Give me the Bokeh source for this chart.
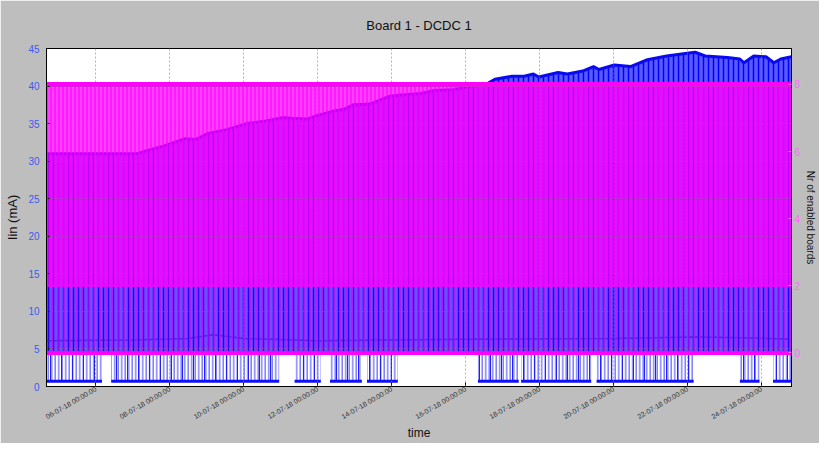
import math
import pandas as pd
from bokeh.plotting import figure
from bokeh.models import (Range1d, LinearAxis, FixedTicker, SingleIntervalTicker,
                          DatetimeTickFormatter, ColumnDataSource)
from bokeh.embed import file_html
from bokeh.resources import INLINE

# ---------------- data ----------------
title_text = "Board 1 - DCDC 1"
x_start = "2018-07-04 16:00"
x_end = "2018-07-24 19:30"
tick_dates = ["2018-07-06", "2018-07-08", "2018-07-10", "2018-07-12", "2018-07-14",
              "2018-07-16", "2018-07-18", "2018-07-20", "2018-07-22", "2018-07-24"]

# upper envelope of Iin (mA)
env_time = ["2018-07-04 16:00", "2018-07-07 03:00", "2018-07-07 09:00", "2018-07-07 20:00",
            "2018-07-08 10:00", "2018-07-08 17:00", "2018-07-09 01:00", "2018-07-09 13:00",
            "2018-07-10 02:00", "2018-07-10 13:00", "2018-07-11 01:00", "2018-07-11 07:00",
            "2018-07-11 17:00", "2018-07-12 00:00", "2018-07-12 09:00", "2018-07-12 17:00",
            "2018-07-12 23:00", "2018-07-13 10:00", "2018-07-13 22:00", "2018-07-14 06:00",
            "2018-07-14 19:00", "2018-07-15 04:00", "2018-07-15 16:00", "2018-07-16 05:00",
            "2018-07-16 13:00", "2018-07-16 19:00", "2018-07-17 06:00", "2018-07-17 14:00",
            "2018-07-17 20:00", "2018-07-17 23:30", "2018-07-18 12:00", "2018-07-18 18:00",
            "2018-07-19 04:00", "2018-07-19 11:00", "2018-07-19 14:30", "2018-07-20 00:30",
            "2018-07-20 11:00", "2018-07-20 22:00", "2018-07-21 10:30", "2018-07-22 01:00",
            "2018-07-22 05:00", "2018-07-22 11:30", "2018-07-23 02:00", "2018-07-23 10:00",
            "2018-07-23 12:40", "2018-07-23 19:00", "2018-07-24 03:00", "2018-07-24 08:00",
            "2018-07-24 12:30", "2018-07-24 19:30"]
env_iin = [31.0, 31.0, 31.4, 32.0,
           33.0, 32.9, 33.7, 34.2,
           35.0, 35.3, 35.8, 35.7,
           35.6, 36.1, 36.6, 36.9,
           37.5, 37.6, 38.6, 38.8,
           39.0, 39.4, 39.5, 40.0,
           40.2, 40.9, 41.3, 41.3,
           41.6, 41.2, 41.8, 41.6,
           42.0, 42.6, 42.2, 42.8,
           42.6, 43.5, 44.0, 44.4,
           44.5, 44.0, 43.8, 43.6,
           43.1, 44.0, 43.9, 43.1,
           43.6, 43.9]

# idle level of Iin (mA)
mid_time = ["2018-07-04 16:00", "2018-07-07 00:00", "2018-07-08 12:00", "2018-07-09 04:00",
            "2018-07-10 00:00", "2018-07-12 00:00", "2018-07-16 00:00", "2018-07-20 00:00",
            "2018-07-22 06:00", "2018-07-23 12:00", "2018-07-24 19:30"]
mid_iin = [6.1, 6.2, 6.4, 6.9, 6.4, 6.1, 6.3, 6.4, 6.6, 6.5, 6.3]

base_iin = 4.6      # lower edge of the dense Iin band
low_iin = 0.7       # Iin when the board is off
off_start = ["2018-07-04 16:00", "2018-07-06 10:00", "2018-07-11 09:00", "2018-07-12 08:00",
             "2018-07-13 08:00", "2018-07-16 08:00", "2018-07-17 12:00", "2018-07-19 13:00",
             "2018-07-23 10:00", "2018-07-24 07:30"]
off_end = ["2018-07-06 04:00", "2018-07-10 23:00", "2018-07-12 02:00", "2018-07-13 04:40",
           "2018-07-14 04:00", "2018-07-17 10:30", "2018-07-19 09:30", "2018-07-22 04:00",
           "2018-07-23 22:45", "2018-07-24 19:30"]

boards_span = [x_start, x_end]
boards_low = 0
boards_mid = 2
boards_high = 8
boards_ticks = [0, 2, 4, 6, 8]

# ---------------- figure ----------------
FONT = "Liberation Sans"
to_dt = pd.to_datetime

p = figure(width=819, height=443, x_axis_type="datetime", output_backend="svg",
           toolbar_location=None,
           x_range=Range1d(to_dt(x_start), to_dt(x_end)), y_range=Range1d(0, 45),
           border_fill_color="#BEBEBE", background_fill_color="white",
           outline_line_color="black", outline_line_width=1,
           min_border_left=46, min_border_right=5, min_border_top=48, min_border_bottom=5,
           title=title_text)
p.extra_y_ranges = {"boards": Range1d(-1.0, 9.07)}

p.title.align = "center"
p.title.text_font = FONT
p.title.text_font_size = "13px"
p.title.text_font_style = "normal"
p.title.text_color = "#111111"
p.title.standoff = 31

# off periods (Iin down to ~0.7 mA)
off_src = ColumnDataSource(dict(left=to_dt(off_start), right=to_dt(off_end),
                                bottom=[low_iin] * len(off_start), top=[base_iin] * len(off_start)))
p.quad(left="left", right="right", bottom="bottom", top="top", source=off_src,
       fill_alpha=0, line_alpha=0, hatch_pattern="vertical_line", hatch_color="#8080FF",
       hatch_weight=1.5, hatch_scale=3.5)
p.quad(left="left", right="right", bottom="bottom", top="top", source=off_src,
       fill_alpha=0, line_alpha=0, hatch_pattern="vertical_line", hatch_color="#2020FF",
       hatch_weight=1, hatch_scale=11)
p.segment(x0="left", x1="right", y0="bottom", y1="bottom", source=off_src,
          line_color="#1010FF", line_width=3)

# dense Iin band between idle level and the upper envelope
env_src = ColumnDataSource(dict(x=to_dt(env_time), y1=[base_iin] * len(env_time), y2=env_iin))
p.varea(x="x", y1="y1", y2="y2", source=env_src, fill_color="#5A5AFF",
        hatch_pattern="vertical_line", hatch_color="#0000FF", hatch_weight=1.5, hatch_scale=5)
p.line(x="x", y="y2", source=env_src, line_color="#0A0AF0", line_width=3)
mid_src = ColumnDataSource(dict(x=to_dt(mid_time), y=mid_iin))
p.line(x="x", y="y", source=mid_src, line_color="#1A1AD0", line_width=1.5, line_alpha=0.7)

# number of enabled boards (right axis)
b_hi = ColumnDataSource(dict(left=[to_dt(boards_span[0])], right=[to_dt(boards_span[1])],
                             bottom=[boards_mid], top=[boards_high]))
p.quad(left="left", right="right", bottom="bottom", top="top", source=b_hi,
       y_range_name="boards", fill_color="#FF00FF", fill_alpha=0.75, line_alpha=0,
       hatch_pattern="vertical_line", hatch_color="#FF00FF", hatch_alpha=1.0,
       hatch_weight=1.2, hatch_scale=4)
b_lo = ColumnDataSource(dict(left=[to_dt(boards_span[0])], right=[to_dt(boards_span[1])],
                             bottom=[boards_low], top=[boards_mid]))
p.quad(left="left", right="right", bottom="bottom", top="top", source=b_lo,
       y_range_name="boards", fill_color="#FF00FF", fill_alpha=0.15, line_alpha=0,
       hatch_pattern="vertical_line", hatch_color="#D800FF", hatch_alpha=0.8,
       hatch_weight=1.5, hatch_scale=6)
lv_src = ColumnDataSource(dict(x0=[to_dt(boards_span[0])] * 3, x1=[to_dt(boards_span[1])] * 3,
                               y=[boards_high, boards_mid, boards_low],
                               w=[5, 2, 4]))
p.segment(x0="x0", x1="x1", y0="y", y1="y", source=lv_src, y_range_name="boards",
          line_color="#FF00FF", line_width="w")

# ---------------- axes ----------------
ticks_ms = [float(t.value // 10**6) for t in to_dt(tick_dates)]
xt = FixedTicker(ticks=ticks_ms)
fmt = "%d-%m-%y %H:%M:%S"
p.xaxis.ticker = xt
p.xaxis.formatter = DatetimeTickFormatter(microseconds=fmt, milliseconds=fmt, seconds=fmt,
                                          minsec=fmt, minutes=fmt, hourmin=fmt, hours=fmt,
                                          days=fmt, months=fmt, years=fmt)
p.xaxis.major_label_orientation = math.pi / 6
p.xaxis.major_label_text_font = FONT
p.xaxis.major_label_text_font_size = "7px"
p.xaxis.major_label_text_color = "#333333"
p.xaxis.major_label_standoff = 2
p.xaxis.axis_label = "time"
p.xaxis.axis_label_text_font = FONT
p.xaxis.axis_label_text_font_size = "12px"
p.xaxis.axis_label_text_font_style = "normal"
p.xaxis.axis_label_text_color = "#111111"
p.xaxis.axis_label_standoff = 0
p.xaxis.major_tick_in = 4
p.xaxis.major_tick_out = 0
p.xaxis.minor_tick_line_color = None
p.xaxis.axis_line_color = "black"

p.yaxis.ticker = SingleIntervalTicker(interval=5)
p.yaxis.axis_label = "Iin (mA)"
p.yaxis.axis_label_text_font = FONT
p.yaxis.axis_label_text_font_size = "13px"
p.yaxis.axis_label_text_font_style = "normal"
p.yaxis.axis_label_text_color = "#111111"
p.yaxis.axis_label_standoff = 5
p.yaxis.major_label_text_font = FONT
p.yaxis.major_label_text_font_size = "10px"
p.yaxis.major_label_text_color = "#3A5BF0"
p.yaxis.major_label_standoff = 3
p.yaxis.major_tick_in = 3
p.yaxis.major_tick_out = 0
p.yaxis.minor_tick_line_color = None
p.yaxis.axis_line_color = "black"

ry = LinearAxis(y_range_name="boards", ticker=FixedTicker(ticks=boards_ticks))
ry.axis_label = "Nr of enabled boards"
ry.axis_label_text_font = FONT
ry.axis_label_text_font_size = "10px"
ry.axis_label_text_font_style = "normal"
ry.axis_label_text_color = "#111111"
ry.axis_label_standoff = 2
ry.major_label_text_font = FONT
ry.major_label_text_font_size = "10px"
ry.major_label_text_color = "#FF66FF"
ry.major_label_standoff = 3
ry.major_tick_in = 3
ry.major_tick_out = 0
ry.major_tick_line_color = "#FF66FF"
ry.minor_tick_line_color = None
ry.axis_line_color = "black"
p.add_layout(ry, "right")

for g in (p.xgrid, p.ygrid):
    g.grid_line_color = "#777777"
    g.grid_line_dash = "2 2"
    g.grid_line_alpha = 0.55
    g.level = "overlay"
p.xgrid.ticker = xt
p.ygrid.ticker = SingleIntervalTicker(interval=5)

open("out.html", "w").write(file_html(p, INLINE))
